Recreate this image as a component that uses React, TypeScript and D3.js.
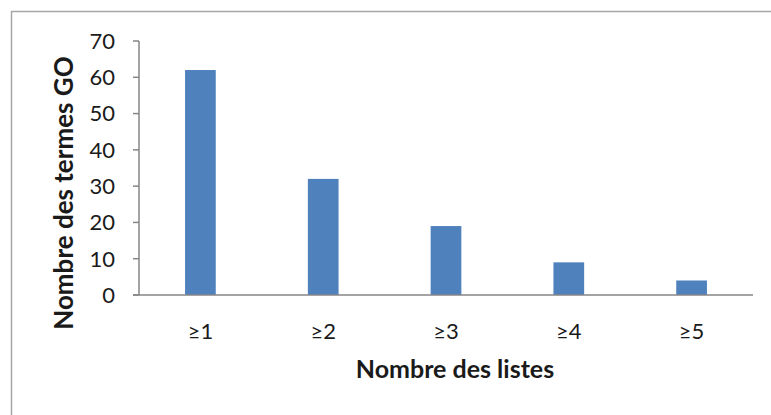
import React from "react";
import * as d3 from "d3";

const categories = ["≥1", "≥2", "≥3", "≥4", "≥5"];
const values = [62, 32, 19, 9, 4];
const yTicks = [0, 10, 20, 30, 40, 50, 60, 70];
const xTitle = "Nombre des listes";
const yTitle = "Nombre des termes GO";

const W = 771;
const H = 415;
const FONT = "Lato, 'Open Sans', sans-serif";

export default function App() {
  const left = 139;
  const right = 753;
  const top = 41;
  const bottom = 295;

  const x = d3.scaleBand<string>().domain(categories).range([left, right]).paddingInner(0).paddingOuter(0);
  const y = d3.scaleLinear().domain([0, 70]).range([bottom, top]);
  const barW = x.bandwidth() / 4;

  return (
    <div style={{ position: "absolute", left: 0, top: 0 }}>
      <svg width={W} height={H} style={{ display: "block" }}>
        <rect x={0} y={0} width={W} height={H} fill="#fff" />
        {/* frame */}
        <line x1={11.5} y1={11} x2={11.5} y2={H} stroke="#a6a6a6" strokeWidth={1.5} />
        <line x1={11} y1={11.5} x2={W} y2={11.5} stroke="#a6a6a6" strokeWidth={1.5} />

        {/* bars */}
        {categories.map((c, i) => (
          <rect
            key={c}
            x={(x(c) as number) + x.bandwidth() / 2 - barW / 2}
            y={y(values[i])}
            width={barW}
            height={y(0) - y(values[i])}
            fill="#4f81bd"
          />
        ))}

        {/* y axis */}
        <line x1={left} y1={y(70)} x2={left} y2={y(0)} stroke="#868686" strokeWidth={1.5} />
        {yTicks.map((t) => (
          <g key={t}>
            <line x1={left - 6} x2={left} y1={y(t)} y2={y(t)} stroke="#868686" strokeWidth={1.5} />
            <text
              x={115}
              y={y(t)}
              dy="0.36em"
              textAnchor="end"
              fontFamily={FONT}
              fontSize={22}
              fill="#1a1a1a"
            >
              {t}
            </text>
          </g>
        ))}

        {/* x axis */}
        <line x1={left - 6} x2={right} y1={bottom} y2={bottom} stroke="#868686" strokeWidth={1.5} />
        {categories.map((c) => (
          <text
            key={c}
            x={(x(c) as number) + x.bandwidth() / 2}
            y={339}
            textAnchor="middle"
            fontFamily={FONT}
            fontSize={22}
            fill="#1a1a1a"
          >
            {c}
          </text>
        ))}

        {/* titles */}
        <text
          x={455}
          y={378}
          textAnchor="middle"
          fontFamily={FONT}
          fontSize={25}
          fontWeight="bold"
          fill="#1a1a1a"
        >
          {xTitle}
        </text>
        <text
          transform={`translate(73, 193) rotate(-90)`}
          textAnchor="middle"
          fontFamily={FONT}
          fontSize={26}
          fontWeight="bold"
          fill="#1a1a1a"
        >
          {yTitle}
        </text>
      </svg>
    </div>
  );
}
